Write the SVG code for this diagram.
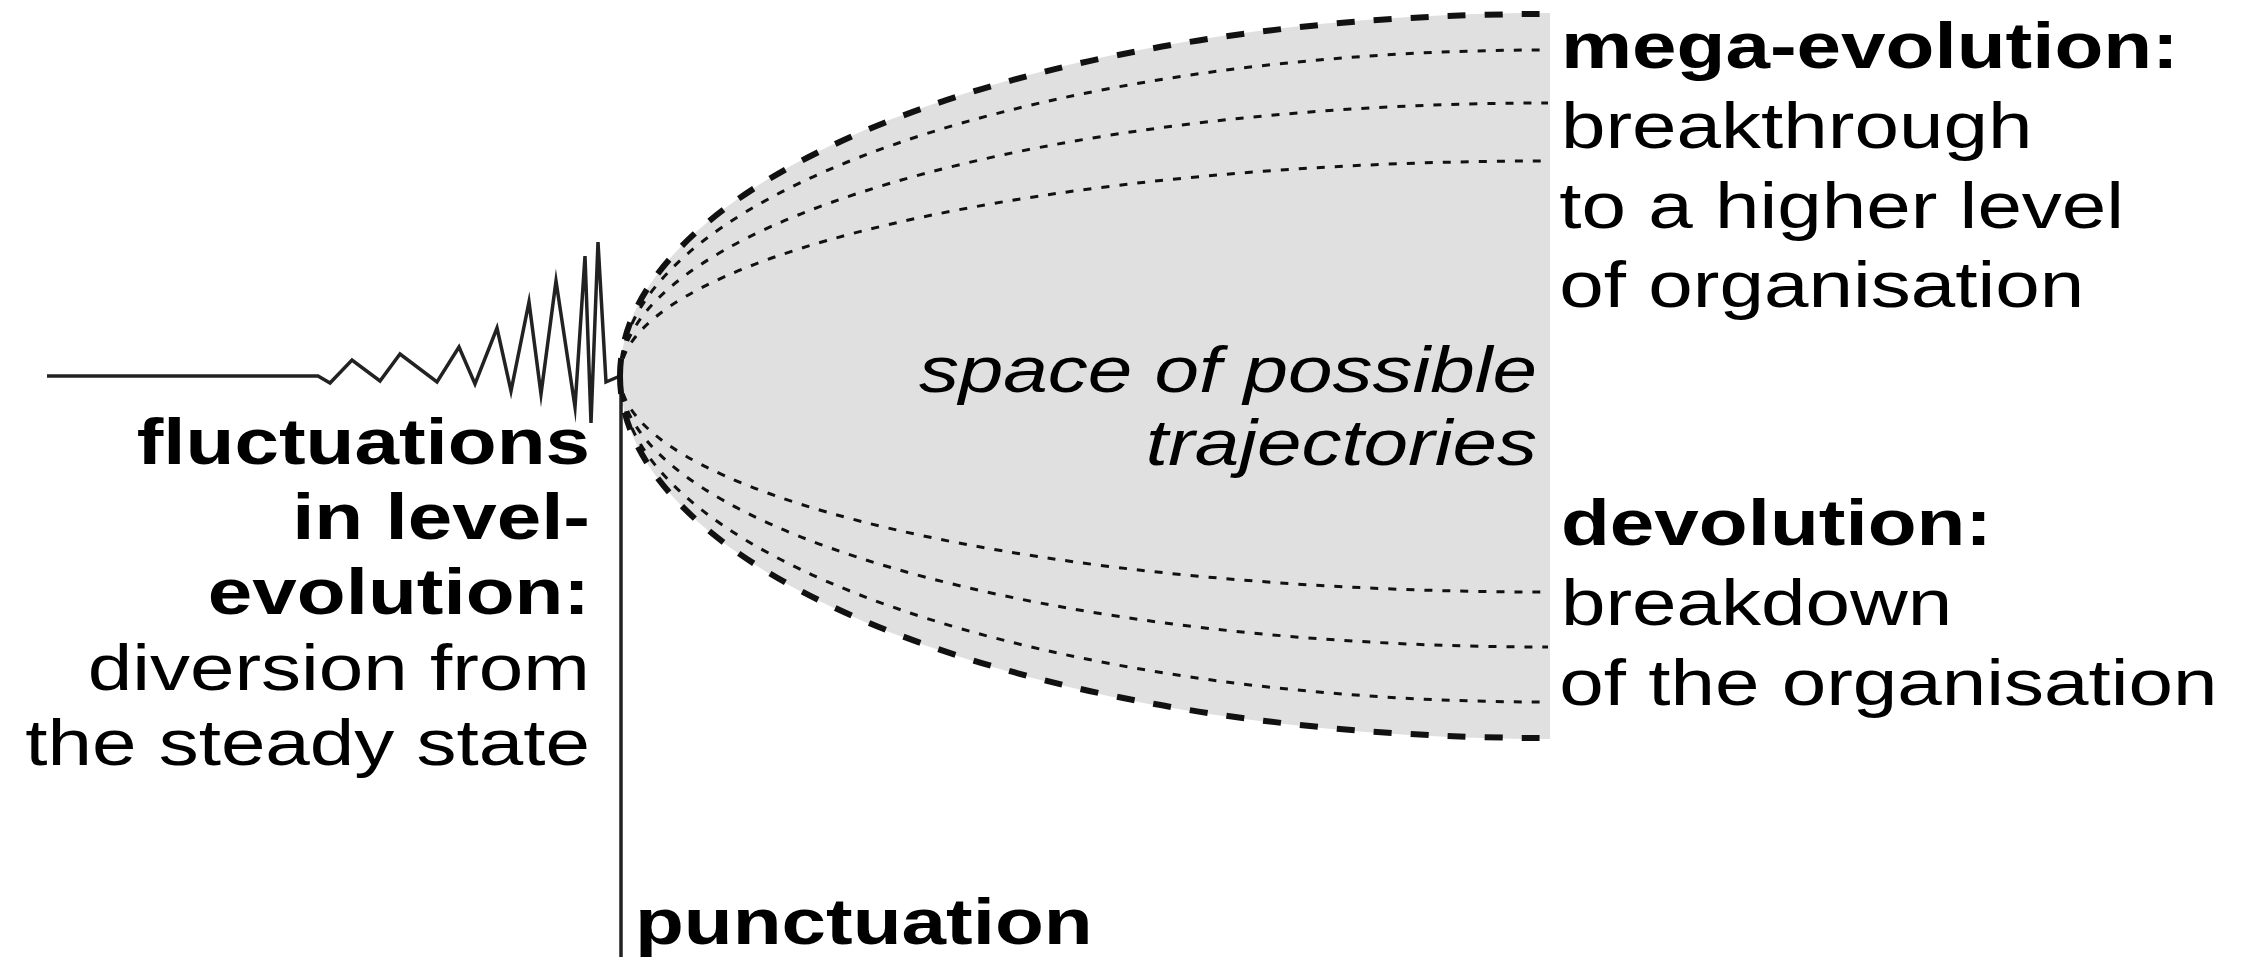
<svg xmlns="http://www.w3.org/2000/svg" width="2249" height="957" viewBox="0 0 2249 957">
<style>
text{font-family:"Liberation Sans",Arial,Helvetica,sans-serif;font-size:64px;fill:#000}
.b{font-weight:bold}
.i{font-style:italic}
.thick{fill:none;stroke:#111;stroke-width:6;stroke-dasharray:18 19}
.dot{fill:none;stroke:#111;stroke-width:3;stroke-dasharray:8 10}
.solid{fill:none;stroke:#222;stroke-width:3.5;stroke-linejoin:miter;stroke-miterlimit:10}
</style>
<rect width="2249" height="957" fill="#fff"/>
<g id="space">
<path d="M1550,13 L1546,13 A926,363 0 0 0 620,376 A926,363 0 0 0 1546,739 L1550,739 Z" fill="#e0e0e0"/>
</g>
<g id="connectors">
<path class="solid" d="M47,376 L318,376 L330,383 L352,360 L380,381 L400,354 L437,382 L459,347 L475,384 L497,328 L511,391 L529,302 L541,394 L556,281 L575,407 L585,256 L591,423 L598,242 L606,382 L620,376"/>
<path class="solid" d="M621,376 L621,957" stroke="#333"/>
<path class="thick" d="M620,376 A926,362 0 0 1 1548,14"/>
<path class="dot" d="M620,376 A926,326 0 0 1 1548,50"/>
<path class="dot" d="M620,376 A926,273 0 0 1 1548,103"/>
<path class="dot" d="M620,376 A926,215 0 0 1 1548,161"/>
<path class="dot" d="M620,376 A926,216 0 0 0 1548,592"/>
<path class="dot" d="M620,376 A926,271 0 0 0 1548,647"/>
<path class="dot" d="M620,376 A926,326 0 0 0 1548,702"/>
<path class="thick" d="M620,376 A926,362 0 0 0 1548,738"/>
</g>
<g id="mega-evolution" transform="scale(1.25 1)">
<text class="b" x="1248.8" y="68">mega-evolution:</text>
<text x="1248.8" y="148">breakthrough</text>
<text x="1247.5" y="228">to a higher level</text>
<text x="1247.5" y="307">of organisation</text>
</g>
<g id="devolution" transform="scale(1.25 1)">
<text class="b" x="1248.8" y="545">devolution:</text>
<text x="1248.8" y="625">breakdown</text>
<text x="1247.5" y="705">of the organisation</text>
</g>
<g id="fluctuations" transform="scale(1.25 1)" text-anchor="end">
<text class="b" x="472" y="464">fluctuations</text>
<text class="b" x="472" y="539">in level-</text>
<text class="b" x="472" y="614">evolution:</text>
<text x="472" y="690">diversion from</text>
<text x="472" y="765">the steady state</text>
</g>
<g id="space-label" transform="scale(1.25 1)" text-anchor="end">
<text class="i" x="1229.6" y="392">space of possible</text>
<text class="i" x="1229.6" y="465">trajectories</text>
</g>
<g id="punctuation" transform="scale(1.25 1)">
<text class="b" x="508" y="944">punctuation</text>
</g>
</svg>
